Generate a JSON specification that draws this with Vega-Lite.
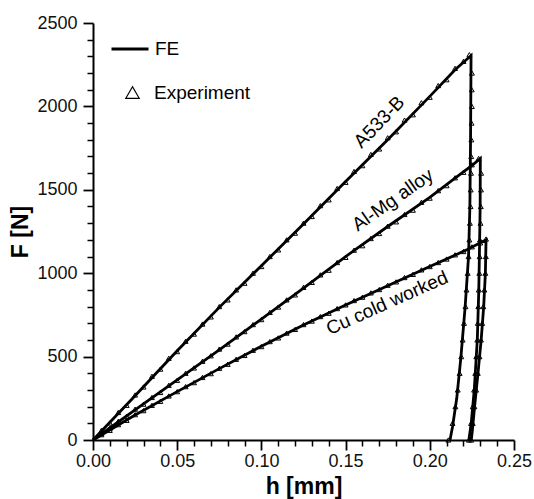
{
  "$schema": "https://vega.github.io/schema/vega-lite/v6.json",
  "width": 421,
  "height": 417,
  "autosize": "none",
  "padding": {"left": 93, "top": 23, "right": 20, "bottom": 59},
  "background": "white",
  "config": {
    "view": {"stroke": null},
    "font": "Liberation Sans",
    "axis": {"grid": false, "domainColor": "black", "tickColor": "black", "labelColor": "#111", "titleColor": "black", "domainWidth": 2, "tickWidth": 1.8, "labelFont": "Liberation Sans", "titleFont": "Liberation Sans"}
  },
  "datasets": {
    "fe": [
      {"material": "A533-B", "seq": 0, "h": 0, "F": 0},
      {"material": "A533-B", "seq": 1, "h": 0.025, "F": 265},
      {"material": "A533-B", "seq": 2, "h": 0.05, "F": 535},
      {"material": "A533-B", "seq": 3, "h": 0.075, "F": 795},
      {"material": "A533-B", "seq": 4, "h": 0.1, "F": 1045},
      {"material": "A533-B", "seq": 5, "h": 0.125, "F": 1295},
      {"material": "A533-B", "seq": 6, "h": 0.15, "F": 1550},
      {"material": "A533-B", "seq": 7, "h": 0.175, "F": 1800},
      {"material": "A533-B", "seq": 8, "h": 0.2, "F": 2060},
      {"material": "A533-B", "seq": 9, "h": 0.215, "F": 2220},
      {"material": "A533-B", "seq": 10, "h": 0.2245, "F": 2305},
      {"material": "A533-B", "seq": 11, "h": 0.2242, "F": 1800},
      {"material": "A533-B", "seq": 12, "h": 0.2238, "F": 1400},
      {"material": "A533-B", "seq": 13, "h": 0.223, "F": 1100},
      {"material": "A533-B", "seq": 14, "h": 0.221, "F": 800},
      {"material": "A533-B", "seq": 15, "h": 0.2185, "F": 500},
      {"material": "A533-B", "seq": 16, "h": 0.216, "F": 250},
      {"material": "A533-B", "seq": 17, "h": 0.2135, "F": 80},
      {"material": "A533-B", "seq": 18, "h": 0.212, "F": 0},
      {"material": "Al-Mg alloy", "seq": 0, "h": 0, "F": 0},
      {"material": "Al-Mg alloy", "seq": 1, "h": 0.025, "F": 180},
      {"material": "Al-Mg alloy", "seq": 2, "h": 0.05, "F": 360},
      {"material": "Al-Mg alloy", "seq": 3, "h": 0.075, "F": 540},
      {"material": "Al-Mg alloy", "seq": 4, "h": 0.1, "F": 725},
      {"material": "Al-Mg alloy", "seq": 5, "h": 0.125, "F": 910},
      {"material": "Al-Mg alloy", "seq": 6, "h": 0.15, "F": 1100},
      {"material": "Al-Mg alloy", "seq": 7, "h": 0.175, "F": 1280},
      {"material": "Al-Mg alloy", "seq": 8, "h": 0.2, "F": 1455},
      {"material": "Al-Mg alloy", "seq": 9, "h": 0.215, "F": 1570},
      {"material": "Al-Mg alloy", "seq": 10, "h": 0.2255, "F": 1650},
      {"material": "Al-Mg alloy", "seq": 11, "h": 0.23, "F": 1688},
      {"material": "Al-Mg alloy", "seq": 12, "h": 0.2299, "F": 1400},
      {"material": "Al-Mg alloy", "seq": 13, "h": 0.2296, "F": 1200},
      {"material": "Al-Mg alloy", "seq": 14, "h": 0.2291, "F": 900},
      {"material": "Al-Mg alloy", "seq": 15, "h": 0.2282, "F": 600},
      {"material": "Al-Mg alloy", "seq": 16, "h": 0.2264, "F": 300},
      {"material": "Al-Mg alloy", "seq": 17, "h": 0.2246, "F": 100},
      {"material": "Al-Mg alloy", "seq": 18, "h": 0.2232, "F": 0},
      {"material": "Cu cold worked", "seq": 0, "h": 0, "F": 0},
      {"material": "Cu cold worked", "seq": 1, "h": 0.025, "F": 150},
      {"material": "Cu cold worked", "seq": 2, "h": 0.05, "F": 290},
      {"material": "Cu cold worked", "seq": 3, "h": 0.075, "F": 428},
      {"material": "Cu cold worked", "seq": 4, "h": 0.1, "F": 562},
      {"material": "Cu cold worked", "seq": 5, "h": 0.125, "F": 690},
      {"material": "Cu cold worked", "seq": 6, "h": 0.15, "F": 810},
      {"material": "Cu cold worked", "seq": 7, "h": 0.175, "F": 925},
      {"material": "Cu cold worked", "seq": 8, "h": 0.2, "F": 1040},
      {"material": "Cu cold worked", "seq": 9, "h": 0.222, "F": 1140},
      {"material": "Cu cold worked", "seq": 10, "h": 0.2334, "F": 1200},
      {"material": "Cu cold worked", "seq": 11, "h": 0.233, "F": 1000},
      {"material": "Cu cold worked", "seq": 12, "h": 0.232, "F": 800},
      {"material": "Cu cold worked", "seq": 13, "h": 0.2305, "F": 600},
      {"material": "Cu cold worked", "seq": 14, "h": 0.2286, "F": 400},
      {"material": "Cu cold worked", "seq": 15, "h": 0.2266, "F": 200},
      {"material": "Cu cold worked", "seq": 16, "h": 0.2252, "F": 50},
      {"material": "Cu cold worked", "seq": 17, "h": 0.2246, "F": 0}
    ],
    "exp": [
      {"material": "A533-B", "h": 0.005, "F": 58},
      {"material": "A533-B", "h": 0.01, "F": 102},
      {"material": "A533-B", "h": 0.015, "F": 165},
      {"material": "A533-B", "h": 0.02, "F": 208},
      {"material": "A533-B", "h": 0.025, "F": 270},
      {"material": "A533-B", "h": 0.03, "F": 318},
      {"material": "A533-B", "h": 0.035, "F": 382},
      {"material": "A533-B", "h": 0.04, "F": 425},
      {"material": "A533-B", "h": 0.045, "F": 490},
      {"material": "A533-B", "h": 0.05, "F": 530},
      {"material": "A533-B", "h": 0.055, "F": 592},
      {"material": "A533-B", "h": 0.06, "F": 635},
      {"material": "A533-B", "h": 0.065, "F": 695},
      {"material": "A533-B", "h": 0.07, "F": 738},
      {"material": "A533-B", "h": 0.075, "F": 800},
      {"material": "A533-B", "h": 0.08, "F": 840},
      {"material": "A533-B", "h": 0.085, "F": 900},
      {"material": "A533-B", "h": 0.09, "F": 940},
      {"material": "A533-B", "h": 0.095, "F": 1000},
      {"material": "A533-B", "h": 0.1, "F": 1040},
      {"material": "A533-B", "h": 0.105, "F": 1100},
      {"material": "A533-B", "h": 0.11, "F": 1140},
      {"material": "A533-B", "h": 0.115, "F": 1200},
      {"material": "A533-B", "h": 0.12, "F": 1240},
      {"material": "A533-B", "h": 0.125, "F": 1300},
      {"material": "A533-B", "h": 0.13, "F": 1340},
      {"material": "A533-B", "h": 0.135, "F": 1405},
      {"material": "A533-B", "h": 0.14, "F": 1440},
      {"material": "A533-B", "h": 0.145, "F": 1508},
      {"material": "A533-B", "h": 0.15, "F": 1545},
      {"material": "A533-B", "h": 0.155, "F": 1610},
      {"material": "A533-B", "h": 0.16, "F": 1645},
      {"material": "A533-B", "h": 0.165, "F": 1712},
      {"material": "A533-B", "h": 0.17, "F": 1745},
      {"material": "A533-B", "h": 0.175, "F": 1812},
      {"material": "A533-B", "h": 0.18, "F": 1848},
      {"material": "A533-B", "h": 0.185, "F": 1918},
      {"material": "A533-B", "h": 0.19, "F": 1950},
      {"material": "A533-B", "h": 0.195, "F": 2022},
      {"material": "A533-B", "h": 0.2, "F": 2055},
      {"material": "A533-B", "h": 0.205, "F": 2125},
      {"material": "A533-B", "h": 0.21, "F": 2160},
      {"material": "A533-B", "h": 0.215, "F": 2228},
      {"material": "A533-B", "h": 0.22, "F": 2270},
      {"material": "A533-B", "h": 0.2235, "F": 2310},
      {"material": "A533-B", "h": 0.225, "F": 2200},
      {"material": "A533-B", "h": 0.2249, "F": 2100},
      {"material": "A533-B", "h": 0.225, "F": 2000},
      {"material": "A533-B", "h": 0.2248, "F": 1900},
      {"material": "A533-B", "h": 0.2247, "F": 1800},
      {"material": "A533-B", "h": 0.2246, "F": 1700},
      {"material": "A533-B", "h": 0.2245, "F": 1600},
      {"material": "A533-B", "h": 0.2243, "F": 1500},
      {"material": "A533-B", "h": 0.2242, "F": 1400},
      {"material": "A533-B", "h": 0.2238, "F": 1300},
      {"material": "A533-B", "h": 0.2235, "F": 1200},
      {"material": "A533-B", "h": 0.223, "F": 1100},
      {"material": "A533-B", "h": 0.2225, "F": 1000},
      {"material": "A533-B", "h": 0.2218, "F": 900},
      {"material": "A533-B", "h": 0.2212, "F": 800},
      {"material": "A533-B", "h": 0.2203, "F": 700},
      {"material": "A533-B", "h": 0.2195, "F": 600},
      {"material": "A533-B", "h": 0.2187, "F": 500},
      {"material": "A533-B", "h": 0.2177, "F": 400},
      {"material": "A533-B", "h": 0.2166, "F": 300},
      {"material": "A533-B", "h": 0.2152, "F": 200},
      {"material": "A533-B", "h": 0.2135, "F": 100},
      {"material": "A533-B", "h": 0.211, "F": 0},
      {"material": "Al-Mg alloy", "h": 0.005, "F": 38},
      {"material": "Al-Mg alloy", "h": 0.01, "F": 70},
      {"material": "Al-Mg alloy", "h": 0.015, "F": 112},
      {"material": "Al-Mg alloy", "h": 0.02, "F": 143},
      {"material": "Al-Mg alloy", "h": 0.025, "F": 185},
      {"material": "Al-Mg alloy", "h": 0.03, "F": 215},
      {"material": "Al-Mg alloy", "h": 0.035, "F": 255},
      {"material": "Al-Mg alloy", "h": 0.04, "F": 285},
      {"material": "Al-Mg alloy", "h": 0.045, "F": 328},
      {"material": "Al-Mg alloy", "h": 0.05, "F": 358},
      {"material": "Al-Mg alloy", "h": 0.055, "F": 400},
      {"material": "Al-Mg alloy", "h": 0.06, "F": 432},
      {"material": "Al-Mg alloy", "h": 0.065, "F": 472},
      {"material": "Al-Mg alloy", "h": 0.07, "F": 505},
      {"material": "Al-Mg alloy", "h": 0.075, "F": 545},
      {"material": "Al-Mg alloy", "h": 0.08, "F": 575},
      {"material": "Al-Mg alloy", "h": 0.085, "F": 618},
      {"material": "Al-Mg alloy", "h": 0.09, "F": 650},
      {"material": "Al-Mg alloy", "h": 0.095, "F": 692},
      {"material": "Al-Mg alloy", "h": 0.1, "F": 722},
      {"material": "Al-Mg alloy", "h": 0.105, "F": 765},
      {"material": "Al-Mg alloy", "h": 0.11, "F": 797},
      {"material": "Al-Mg alloy", "h": 0.115, "F": 840},
      {"material": "Al-Mg alloy", "h": 0.12, "F": 870},
      {"material": "Al-Mg alloy", "h": 0.125, "F": 915},
      {"material": "Al-Mg alloy", "h": 0.13, "F": 945},
      {"material": "Al-Mg alloy", "h": 0.135, "F": 990},
      {"material": "Al-Mg alloy", "h": 0.14, "F": 1018},
      {"material": "Al-Mg alloy", "h": 0.145, "F": 1064},
      {"material": "Al-Mg alloy", "h": 0.15, "F": 1095},
      {"material": "Al-Mg alloy", "h": 0.155, "F": 1138},
      {"material": "Al-Mg alloy", "h": 0.16, "F": 1165},
      {"material": "Al-Mg alloy", "h": 0.165, "F": 1208},
      {"material": "Al-Mg alloy", "h": 0.17, "F": 1238},
      {"material": "Al-Mg alloy", "h": 0.175, "F": 1282},
      {"material": "Al-Mg alloy", "h": 0.18, "F": 1308},
      {"material": "Al-Mg alloy", "h": 0.185, "F": 1352},
      {"material": "Al-Mg alloy", "h": 0.19, "F": 1378},
      {"material": "Al-Mg alloy", "h": 0.195, "F": 1425},
      {"material": "Al-Mg alloy", "h": 0.2, "F": 1450},
      {"material": "Al-Mg alloy", "h": 0.205, "F": 1495},
      {"material": "Al-Mg alloy", "h": 0.21, "F": 1525},
      {"material": "Al-Mg alloy", "h": 0.215, "F": 1572},
      {"material": "Al-Mg alloy", "h": 0.22, "F": 1605},
      {"material": "Al-Mg alloy", "h": 0.225, "F": 1650},
      {"material": "Al-Mg alloy", "h": 0.229, "F": 1688},
      {"material": "Al-Mg alloy", "h": 0.2305, "F": 1600},
      {"material": "Al-Mg alloy", "h": 0.2304, "F": 1500},
      {"material": "Al-Mg alloy", "h": 0.2303, "F": 1400},
      {"material": "Al-Mg alloy", "h": 0.2301, "F": 1300},
      {"material": "Al-Mg alloy", "h": 0.2298, "F": 1200},
      {"material": "Al-Mg alloy", "h": 0.2296, "F": 1100},
      {"material": "Al-Mg alloy", "h": 0.2294, "F": 1000},
      {"material": "Al-Mg alloy", "h": 0.2291, "F": 900},
      {"material": "Al-Mg alloy", "h": 0.2288, "F": 800},
      {"material": "Al-Mg alloy", "h": 0.2285, "F": 700},
      {"material": "Al-Mg alloy", "h": 0.2282, "F": 600},
      {"material": "Al-Mg alloy", "h": 0.2276, "F": 500},
      {"material": "Al-Mg alloy", "h": 0.227, "F": 400},
      {"material": "Al-Mg alloy", "h": 0.2263, "F": 300},
      {"material": "Al-Mg alloy", "h": 0.2255, "F": 200},
      {"material": "Al-Mg alloy", "h": 0.2245, "F": 100},
      {"material": "Al-Mg alloy", "h": 0.2232, "F": 0},
      {"material": "Cu cold worked", "h": 0.005, "F": 32},
      {"material": "Cu cold worked", "h": 0.01, "F": 58},
      {"material": "Cu cold worked", "h": 0.015, "F": 92},
      {"material": "Cu cold worked", "h": 0.02, "F": 118},
      {"material": "Cu cold worked", "h": 0.025, "F": 152},
      {"material": "Cu cold worked", "h": 0.03, "F": 176},
      {"material": "Cu cold worked", "h": 0.035, "F": 208},
      {"material": "Cu cold worked", "h": 0.04, "F": 232},
      {"material": "Cu cold worked", "h": 0.045, "F": 264},
      {"material": "Cu cold worked", "h": 0.05, "F": 290},
      {"material": "Cu cold worked", "h": 0.055, "F": 320},
      {"material": "Cu cold worked", "h": 0.06, "F": 344},
      {"material": "Cu cold worked", "h": 0.065, "F": 375},
      {"material": "Cu cold worked", "h": 0.07, "F": 398},
      {"material": "Cu cold worked", "h": 0.075, "F": 430},
      {"material": "Cu cold worked", "h": 0.08, "F": 454},
      {"material": "Cu cold worked", "h": 0.085, "F": 484},
      {"material": "Cu cold worked", "h": 0.09, "F": 507},
      {"material": "Cu cold worked", "h": 0.095, "F": 538},
      {"material": "Cu cold worked", "h": 0.1, "F": 560},
      {"material": "Cu cold worked", "h": 0.105, "F": 590},
      {"material": "Cu cold worked", "h": 0.11, "F": 612},
      {"material": "Cu cold worked", "h": 0.115, "F": 641},
      {"material": "Cu cold worked", "h": 0.12, "F": 663},
      {"material": "Cu cold worked", "h": 0.125, "F": 692},
      {"material": "Cu cold worked", "h": 0.13, "F": 713},
      {"material": "Cu cold worked", "h": 0.135, "F": 740},
      {"material": "Cu cold worked", "h": 0.14, "F": 760},
      {"material": "Cu cold worked", "h": 0.145, "F": 788},
      {"material": "Cu cold worked", "h": 0.15, "F": 810},
      {"material": "Cu cold worked", "h": 0.155, "F": 836},
      {"material": "Cu cold worked", "h": 0.16, "F": 856},
      {"material": "Cu cold worked", "h": 0.165, "F": 882},
      {"material": "Cu cold worked", "h": 0.17, "F": 902},
      {"material": "Cu cold worked", "h": 0.175, "F": 928},
      {"material": "Cu cold worked", "h": 0.18, "F": 948},
      {"material": "Cu cold worked", "h": 0.185, "F": 974},
      {"material": "Cu cold worked", "h": 0.19, "F": 993},
      {"material": "Cu cold worked", "h": 0.195, "F": 1020},
      {"material": "Cu cold worked", "h": 0.2, "F": 1040},
      {"material": "Cu cold worked", "h": 0.205, "F": 1064},
      {"material": "Cu cold worked", "h": 0.21, "F": 1085},
      {"material": "Cu cold worked", "h": 0.215, "F": 1110},
      {"material": "Cu cold worked", "h": 0.22, "F": 1130},
      {"material": "Cu cold worked", "h": 0.225, "F": 1158},
      {"material": "Cu cold worked", "h": 0.23, "F": 1182},
      {"material": "Cu cold worked", "h": 0.2334, "F": 1205},
      {"material": "Cu cold worked", "h": 0.2333, "F": 1100},
      {"material": "Cu cold worked", "h": 0.233, "F": 1000},
      {"material": "Cu cold worked", "h": 0.2324, "F": 900},
      {"material": "Cu cold worked", "h": 0.2318, "F": 800},
      {"material": "Cu cold worked", "h": 0.2311, "F": 700},
      {"material": "Cu cold worked", "h": 0.2304, "F": 600},
      {"material": "Cu cold worked", "h": 0.2295, "F": 500},
      {"material": "Cu cold worked", "h": 0.2285, "F": 400},
      {"material": "Cu cold worked", "h": 0.2275, "F": 300},
      {"material": "Cu cold worked", "h": 0.2265, "F": 200},
      {"material": "Cu cold worked", "h": 0.2255, "F": 100},
      {"material": "Cu cold worked", "h": 0.2246, "F": 0}
    ]
  },
  "layer": [
    {
      "data": {"name": "fe"},
      "mark": {"type": "line", "strokeWidth": 2.8},
      "encoding": {
        "x": {"field": "h", "type": "quantitative", "scale": {"domain": [0, 0.25], "nice": false},
          "axis": {"values": [0, 0.05, 0.1, 0.15, 0.2, 0.25], "format": ".2f", "title": "h [mm]", "orient": "bottom", "tickSize": 10, "labelPadding": 2, "labelFontSize": 18, "titleFontSize": 23, "titleFontWeight": "bold", "titlePadding": 5, "labelFlush": false}},
        "y": {"field": "F", "type": "quantitative", "scale": {"domain": [0, 2500], "nice": false},
          "axis": {"values": [0, 500, 1000, 1500, 2000, 2500], "format": "d", "title": "F [N]", "orient": "left", "tickSize": 10, "labelPadding": 6, "labelFontSize": 18, "titleFontSize": 23, "titleFontWeight": "bold", "titlePadding": 4}},
        "color": {"datum": "FE", "type": "nominal",
          "scale": {"domain": ["FE"], "range": ["black"]},
          "legend": {"title": null, "orient": "none", "legendX": 17, "legendY": 6, "padding": 0, "symbolType": "stroke", "symbolSize": 1369, "symbolStrokeWidth": 3, "symbolStrokeColor": "black", "labelFontSize": 19, "labelFont": "Liberation Sans", "labelColor": "black", "labelOffset": 5}},
        "detail": {"field": "material", "type": "nominal"},
        "order": {"field": "seq", "type": "quantitative"}
      }
    },
    {
      "data": {"name": "exp"},
      "mark": {"type": "point", "filled": false, "color": "black", "size": 24, "strokeWidth": 1, "opacity": 1},
      "encoding": {
        "x": {"field": "h", "type": "quantitative",
          "axis": {"values": [0.01, 0.02, 0.03, 0.04, 0.06, 0.07, 0.08, 0.09, 0.11, 0.12, 0.13, 0.14, 0.16, 0.17, 0.18, 0.19, 0.21, 0.22, 0.23, 0.24], "orient": "bottom", "labels": false, "domain": false, "title": null, "tickSize": 6, "tickWidth": 1.5}},
        "y": {"field": "F", "type": "quantitative",
          "axis": {"values": [100, 200, 300, 400, 600, 700, 800, 900, 1100, 1200, 1300, 1400, 1600, 1700, 1800, 1900, 2100, 2200, 2300, 2400], "orient": "left", "labels": false, "domain": false, "title": null, "tickSize": 6, "tickWidth": 1.5}},
        "shape": {"datum": "Experiment", "type": "nominal",
          "scale": {"domain": ["Experiment"], "range": ["triangle-up"]},
          "legend": {"title": null, "orient": "none", "legendX": 30, "legendY": 60, "padding": 0, "symbolSize": 180, "symbolStrokeWidth": 1.2, "symbolStrokeColor": "black", "symbolFillColor": "transparent", "labelFontSize": 19, "labelFont": "Liberation Sans", "labelColor": "black", "labelOffset": 12}
        }
      }
    },
    {
      "data": {"values": [{"label": "A533-B", "h": 0.170, "F": 1906}]},
      "mark": {"type": "text", "angle": -46, "fontSize": 19, "font": "Liberation Sans", "align": "center", "baseline": "middle", "color": "black"},
      "encoding": {
        "x": {"field": "h", "type": "quantitative", "axis": null},
        "y": {"field": "F", "type": "quantitative", "axis": null},
        "text": {"field": "label"}
      }
    },
    {
      "data": {"values": [{"label": "Al-Mg alloy", "h": 0.178, "F": 1439}]},
      "mark": {"type": "text", "angle": -35, "fontSize": 19, "font": "Liberation Sans", "align": "center", "baseline": "middle", "color": "black"},
      "encoding": {
        "x": {"field": "h", "type": "quantitative", "axis": null},
        "y": {"field": "F", "type": "quantitative", "axis": null},
        "text": {"field": "label"}
      }
    },
    {
      "data": {"values": [{"label": "Cu cold worked", "h": 0.1746, "F": 821}]},
      "mark": {"type": "text", "angle": -24, "fontSize": 19, "font": "Liberation Sans", "align": "center", "baseline": "middle", "color": "black"},
      "encoding": {
        "x": {"field": "h", "type": "quantitative", "axis": null},
        "y": {"field": "F", "type": "quantitative", "axis": null},
        "text": {"field": "label"}
      }
    }
  ],
  "resolve": {"axis": {"x": "independent", "y": "independent"}}
}
